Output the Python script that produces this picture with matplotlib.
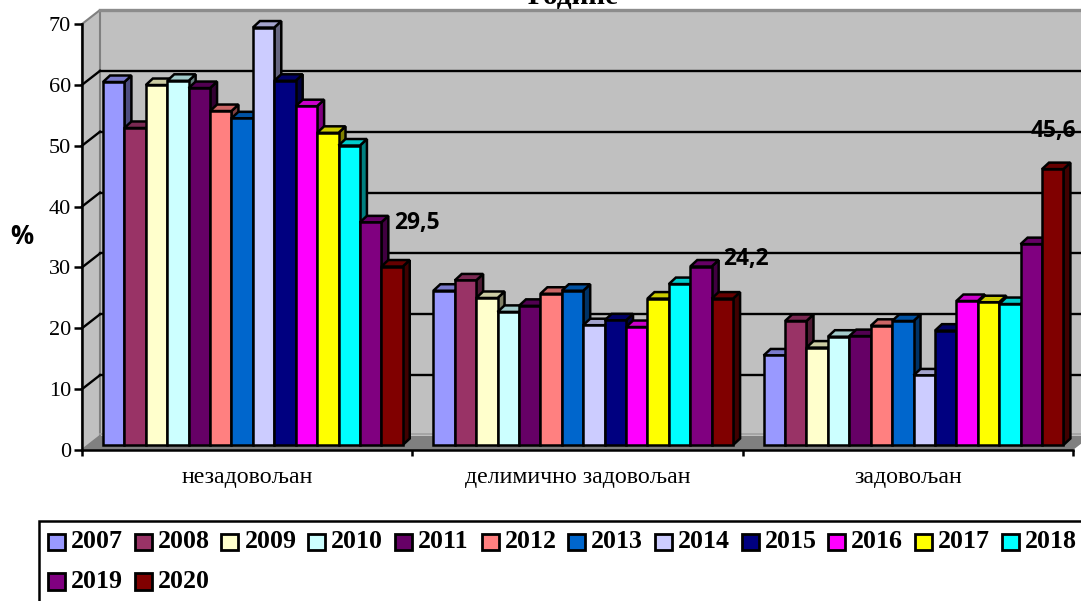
import matplotlib
matplotlib.use("Agg")
import matplotlib.pyplot as plt
from matplotlib.patches import Rectangle, Polygon
from matplotlib.colors import to_rgb

W, H = 1081, 601
years = ["2007","2008","2009","2010","2011","2012","2013","2014","2015","2016","2017","2018","2019","2020"]
colors = ["#9999FF","#993366","#FFFFCC","#CCFFFF","#660066","#FF8080","#0066CC","#CCCCFF","#000080","#FF00FF","#FFFF00","#00FFFF","#800080","#800000"]
categories = ["незадовољан", "делимично задовољан", "задовољан"]
nezadovoljan = [60, 52.4, 59.5, 60.2, 59, 55.2, 54, 69, 60.2, 56, 51.6, 49.5, 36.8, 29.5]
delimicno = [25.5, 27.2, 24.3, 22, 23, 25, 25.5, 19.8, 20.6, 19.5, 24.2, 26.6, 29.5, 24.2]
zadovoljan = [14.8, 20.5, 16.1, 17.9, 18, 19.7, 20.5, 11.5, 18.9, 23.8, 23.6, 23.3, 33.2, 45.6]
groups = [nezadovoljan, delimicno, zadovoljan]
labels = [(394, 223, "29,5"), (723, 259, "24,2"), (1031, 131, "45,6")]
yticks = [0, 10, 20, 30, 40, 50, 60, 70]

fig = plt.figure(figsize=(W/100, H/100), dpi=100, facecolor="white")
def axes_px(x0, y0, x1, y1, **kw):
    return fig.add_axes([x0/W, 1-y0/H, (x1-x0)/W, (y0-y1)/H], **kw)

SERIF = "Liberation Serif"
SANS = "Open Sans"
EDGE = 1.8

# ---- frame axes: real axis with walls and floor
frame = axes_px(82, 450, 1073, 24, zorder=1)
frame.set_xlim(0, 3); frame.set_ylim(0, 70)
frame.patch.set_visible(False)
for s in ("top", "right"):
    frame.spines[s].set_visible(False)
for s in ("left", "bottom"):
    frame.spines[s].set_linewidth(1.8)
    frame.spines[s].set_zorder(10)
dx = 18/330.33; dy = 14/6.086
GW = "#C0C0C0"; GE = "#808080"
frame.add_patch(Polygon([(dx,dy),(3.1,dy),(3.1,70+dy),(dx,70+dy)], fc=GW, ec="none", clip_on=False, zorder=1))
frame.add_patch(Polygon([(0,0),(dx,dy),(dx,70+dy),(0,70)], fc=GW, ec=GE, lw=1.5, clip_on=False, zorder=1.5))
frame.add_patch(Polygon([(0,0),(3,0),(3+dx,dy),(dx,dy)], fc=GE, ec="none", clip_on=False, zorder=2))
frame.plot([dx,3.1],[70+dy,70+dy], color="#8C8C8C", lw=2.4, clip_on=False, zorder=2)
frame.plot([dx,3.1],[dy+0.25,dy+0.25], color="#A0A0A0", lw=1.2, clip_on=False, zorder=2.1)
for v in yticks[1:-1]:
    frame.plot([dx,3.1],[v+dy,v+dy], color="black", lw=1.7, clip_on=False, zorder=2)
    frame.plot([0,dx],[v,v+dy], color="black", lw=1.7, clip_on=False, zorder=2)
frame.set_yticks(yticks)
frame.set_xticks([0,1,2,3]); frame.set_xticklabels([])
frame.tick_params(axis="y", length=5.8, width=1.8, labelsize=16, pad=2)
frame.tick_params(axis="x", length=4.5, width=1.8)
for t in frame.get_yticklabels():
    t.set_fontfamily(SERIF)
for i, c in enumerate(categories):
    fig.text((82+330.33*(i+0.5))/W, 1-478/H, c, family=SERIF, fontsize=17.2, ha="center", va="center")

# ---- bar axes: front plane of the 3-D bars
ax = axes_px(82, 445, 1073, 445-70*6.05, zorder=2)
ax.set_xlim(0, 3); ax.set_ylim(0, 70)
ax.axis("off")
bw = 21.41/330.33
off = 21/330.33
ddx = 7/330.33; ddy = 6.5/6.05
def shade(c, f):
    return tuple(f*v for v in to_rgb(c))
for g, vals in enumerate(groups):
    for i, v in enumerate(vals):
        x = g + off + i*bw
        ax.add_patch(Polygon([(x+bw,0),(x+bw+ddx,ddy),(x+bw+ddx,v+ddy),(x+bw,v)], fc=shade(colors[i],0.5), ec="black", lw=EDGE, joinstyle="miter", clip_on=False, zorder=2+i))
        ax.add_patch(Polygon([(x,v),(x+ddx,v+ddy),(x+bw+ddx,v+ddy),(x+bw,v)], fc=shade(colors[i],0.8), ec="black", lw=EDGE, joinstyle="miter", clip_on=False, zorder=2+i))
        ax.bar(x, v, width=bw, align="edge", color=colors[i], edgecolor="black", linewidth=EDGE, clip_on=False, zorder=2+i)

# ---- text annotations
for px, py, s in labels:
    fig.text(px/W, 1-py/H, s, family=SANS, fontweight="bold", fontsize=16.5, ha="left", va="center", zorder=5)
fig.text(21.5/W, 1-237/H, "%", family=SANS, fontweight="bold", fontsize=18.5, ha="center", va="center", zorder=5)
fig.text(573/W, 1-4/H, "Године", family=SERIF, fontweight="bold", fontsize=21, ha="center", va="baseline", zorder=5)

# ---- legend
lg = axes_px(0, 601, W, 0, zorder=3)
lg.set_xlim(0, W); lg.set_ylim(H, 0); lg.axis("off")
lg.add_patch(Rectangle((39, 521), 1100, 200, fc="white", ec="black", lw=1.8))
for i, y in enumerate(years):
    if i < 12:
        sx, sy = 48+i*86.7, 533.5
    else:
        sx, sy = 48+(i-12)*86.7, 573
    lg.add_patch(Rectangle((sx, sy), 17, 16.5, fc=colors[i], ec="black", lw=2))
    lg.text(sx+23, sy+8.5, y, family=SERIF, fontweight="bold", fontsize=18.6, ha="left", va="center")

fig.savefig("out.png", dpi=100)
